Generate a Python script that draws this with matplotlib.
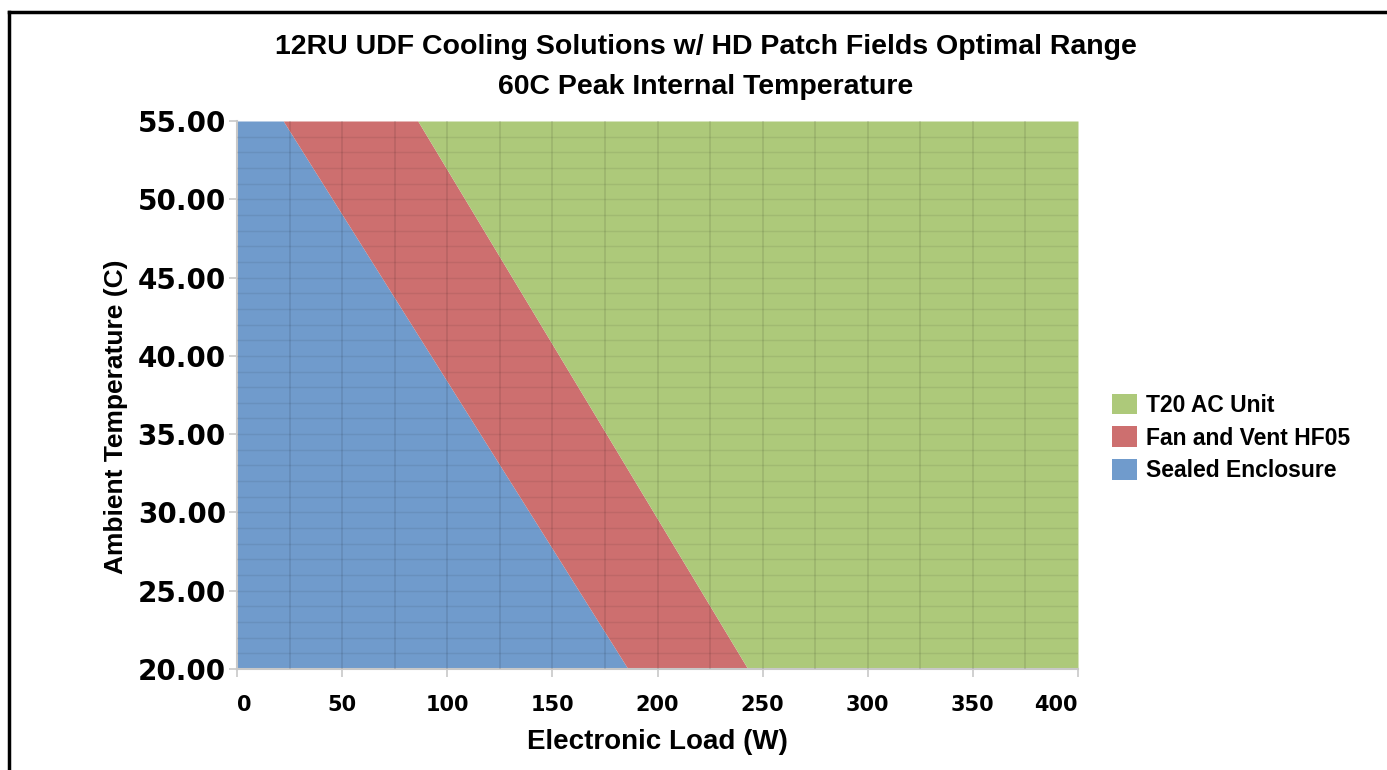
import numpy as np
import matplotlib.pyplot as plt
from matplotlib.patches import Patch
from matplotlib.lines import Line2D

# ambient temperature (C) at the ends of each boundary line
temps = [20, 55]
# max load (W) a sealed enclosure handles at those temperatures
sealed_max_load = [186, 22]
# max load (W) for fan and vent HF05
fan_max_load = [243, 86]

x_ticks = [0, 50, 100, 150, 200, 250, 300, 350, 400]
y_ticks = [20, 25, 30, 35, 40, 45, 50, 55]

series_names = ["T20 AC Unit", "Fan and Vent HF05", "Sealed Enclosure"]
colors = {"T20 AC Unit": "#adc97a",
          "Fan and Vent HF05": "#cd6f6f",
          "Sealed Enclosure": "#709bcc"}

BOLD = "Liberation Sans"


def main():
    fig = plt.figure(figsize=(13.87, 7.70), dpi=100)
    ax = fig.add_axes([237 / 1387, 101 / 770, 841 / 1387, 548 / 770])

    ax.fill_betweenx(temps, 0, sealed_max_load,
                     color=colors["Sealed Enclosure"], lw=0)
    ax.fill_betweenx(temps, sealed_max_load, fan_max_load,
                     color=colors["Fan and Vent HF05"], lw=0)
    ax.fill_betweenx(temps, fan_max_load, x_ticks[-1],
                     color=colors["T20 AC Unit"], lw=0)

    ax.set_xlim(x_ticks[0], x_ticks[-1])
    ax.set_ylim(y_ticks[0], y_ticks[-1])

    # faint grid on top of the fills
    for gx in np.arange(25, 400, 25):
        ax.axvline(gx, color="#000000", alpha=0.10, lw=1.2, zorder=3)
    for gy in np.arange(21, 55, 1):
        ax.axhline(gy, color="#000000", alpha=0.07, lw=1.0, zorder=3)

    ax.set_xticks(x_ticks)
    ax.set_yticks(y_ticks)
    ax.set_yticklabels([f"{v:.2f}" for v in y_ticks],
                       fontfamily="DejaVu Sans", fontweight="bold", fontsize=20)
    ax.set_xticklabels([str(v) for v in x_ticks],
                       fontfamily="DejaVu Sans", fontweight="bold", fontsize=15)
    labels = ax.get_xticklabels()
    labels[0].set_horizontalalignment("left")
    labels[-1].set_horizontalalignment("right")

    ax.tick_params(axis="both", length=6, width=1.2, color="#c8c8c8",
                   direction="out")
    ax.tick_params(axis="y", pad=2)
    ax.tick_params(axis="x", pad=13)

    for side in ["top", "right"]:
        ax.spines[side].set_visible(False)
    for side in ["left", "bottom"]:
        ax.spines[side].set_color("#c8c8c8")
        ax.spines[side].set_linewidth(1.5)

    ax.set_xlabel("Electronic Load (W)", fontfamily=BOLD, fontweight="bold",
                  fontsize=20, labelpad=10)
    ax.set_ylabel("Ambient Temperature (C)", fontfamily=BOLD, fontweight="bold",
                  fontsize=19, labelpad=7)
    ax.yaxis.label.set_y(0.46)

    fig.text(706 / 1387, 1 - 47 / 770,
             "12RU UDF Cooling Solutions w/ HD Patch Fields Optimal Range",
             ha="center", va="center", fontfamily=BOLD, fontweight="bold",
             fontsize=20.5)
    fig.text(706 / 1387, 1 - 87 / 770, "60C Peak Internal Temperature",
             ha="center", va="center", fontfamily=BOLD, fontweight="bold",
             fontsize=20.5)

    handles = [Patch(facecolor=colors[n], edgecolor="none") for n in series_names]
    fig.legend(handles, series_names, loc="center left",
               bbox_to_anchor=(1101 / 1387, 1 - 438 / 770),
               frameon=False, prop={"family": BOLD, "weight": "bold", "size": 16.5},
               handlelength=1.05, handleheight=1.0, handletextpad=0.4,
               labelspacing=0.42, borderpad=0)

    # frame lines along the top and left edge of the picture
    fig.add_artist(Line2D([8.5 / 1387, 1], [1 - 12 / 770, 1 - 12 / 770],
                          transform=fig.transFigure, color="black", lw=2.5))
    fig.add_artist(Line2D([8.5 / 1387, 8.5 / 1387], [0, 1 - 12 / 770],
                          transform=fig.transFigure, color="black", lw=2.5))

    fig.savefig("out.png", dpi=100)


if __name__ == "__main__":
    main()
